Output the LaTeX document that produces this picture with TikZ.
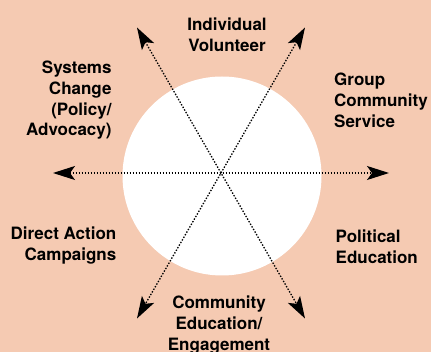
\documentclass[tikz,border=0pt]{standalone}
\usepackage{fontspec}
\setmainfont{TeX Gyre Heros}
\usetikzlibrary{arrows.meta}
\definecolor{peach}{RGB}{245,202,178}

\begin{document}
\begin{tikzpicture}[x=1pt, y=-1pt,
  spoke/.style={dash pattern=on 1.4pt off 1.6pt, line width=1.3pt,
    {Stealth[length=22pt,width=14pt,inset=5pt]}-{Stealth[length=22pt,width=14pt,inset=5pt]}},
  lbl/.style={inner sep=0pt, font=\fontsize{17}{20.7}\selectfont\bfseries}]
%%%%% Background %%%%%
\fill[peach] (0,0) rectangle (431,352);
\useasboundingbox (0,0) rectangle (431,352);
\node[circle, fill=white, minimum size=199pt, inner sep=0pt] (disc) at (222,176) {};
\coordinate (hub) at (221,173);
%%%%% Spokes %%%%%
\foreach \a in {0,60,120}{
\coordinate (out\a) at ([shift={(\a:168)}]hub);
\coordinate (in\a) at ([shift={(\a+180:168)}]hub);
\draw[spoke] (in\a) -- (out\a);
}
%%%%% Labels %%%%%
\node[lbl, anchor=north, align=center] (indiv) at (227,17.7) {Individual\\Volunteer};
\node[lbl, anchor=north east, align=right] (systems) at (111.7,61) {Systems\\Change\\(Policy/\\Advocacy)};
\node[lbl, anchor=north west, align=left] (group) at (334,73) {Group\\Community\\Service};
\node[lbl, anchor=north east, align=right] (direct) at (116.5,227) {Direct Action\\Campaigns};
\node[lbl, anchor=north west, align=left] (political) at (335.5,230) {Political\\Education};
\node[lbl, anchor=north, align=center] (commed) at (219,296) {Community\\Education/\\Engagement};
\end{tikzpicture}
\end{document}
